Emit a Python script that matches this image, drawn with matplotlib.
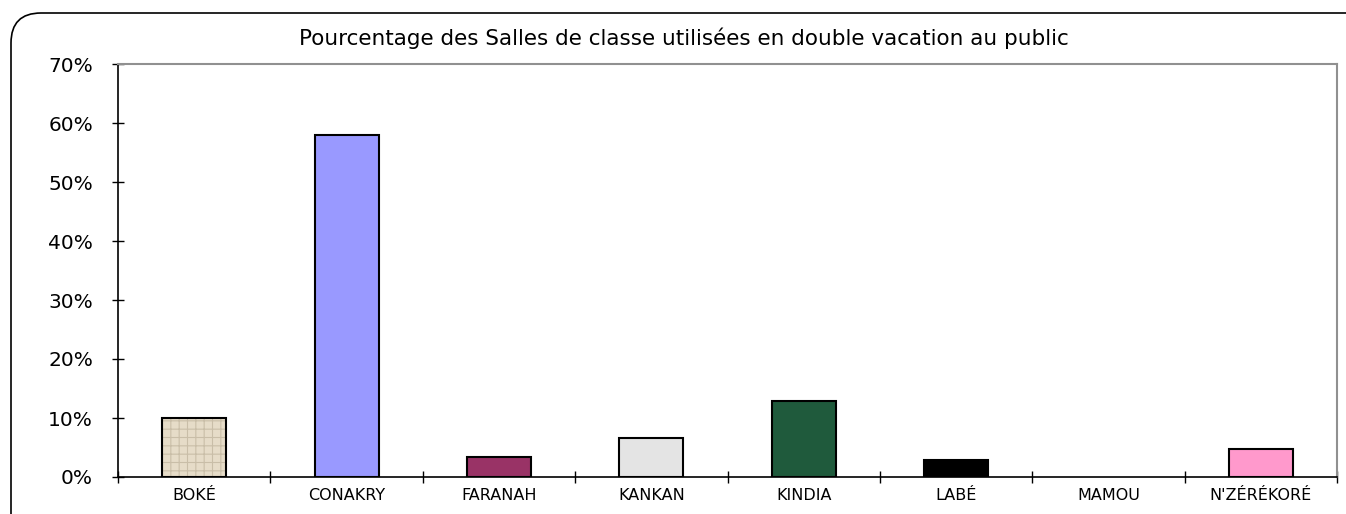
import numpy as np
import matplotlib.pyplot as plt
from matplotlib.patches import FancyBboxPatch
from matplotlib.ticker import PercentFormatter, FixedLocator

# données
regions = ['BOKÉ', 'CONAKRY', 'FARANAH', 'KANKAN', 'KINDIA', 'LABÉ', 'MAMOU', "N'ZÉRÉKORÉ"]
pourcent = [10.0, 58.0, 3.4, 6.6, 12.9, 2.8, 0.0, 4.8]
couleurs = ['#e6dcc8', '#9999ff', '#993366', '#e4e4e4', '#1f5a3c', '#000000', '#ffffff', '#ff99cc']
hachures = ['++', None, None, None, None, None, None, None]
titre = 'Pourcentage des Salles de classe utilisées en double vacation au public'

plt.rcParams['font.family'] = ['DejaVu Sans']
plt.rcParams['hatch.linewidth'] = 0.8

fig = plt.figure(figsize=(13.46, 5.14), dpi=100)
ax = fig.add_axes([118/1346, 1-477/514, (1337-118)/1346, (477-64)/514])

# cadre arrondi autour du graphique
cadre = FancyBboxPatch((11, -40), 1400, 514-13+40, boxstyle='round,pad=0,rounding_size=30',
                       transform=None, fill=False, edgecolor='black', linewidth=1.2)
fig.patches.append(cadre)

x = np.arange(len(regions))
for i in range(len(regions)):
    if pourcent[i] > 0:
        # remplissage (texture) puis contour noir
        ax.bar(x[i], pourcent[i], width=0.42, color=couleurs[i], edgecolor='#c9bea8',
               linewidth=0, hatch=hachures[i], zorder=3)
        ax.bar(x[i], pourcent[i], width=0.42, fill=False, edgecolor='black',
               linewidth=1.5, zorder=4)

ax.set_xlim(-0.5, len(regions) - 0.5)
ax.set_ylim(0, 70)
ax.yaxis.set_major_locator(FixedLocator(range(0, 71, 10)))
ax.yaxis.set_major_formatter(PercentFormatter(decimals=0))
ax.set_xticks(x)
ax.set_xticklabels(regions, fontsize=11.5)
ax.set_xticks(np.arange(-0.5, len(regions)), minor=True)
ax.tick_params(axis='x', which='major', length=0, pad=8)
ax.tick_params(axis='x', which='minor', direction='inout', length=8, width=1)
ax.tick_params(axis='y', direction='inout', length=8, width=1, labelsize=14.5, pad=14)

for s in ['left', 'bottom']:
    ax.spines[s].set_color('black')
    ax.spines[s].set_linewidth(1.2)
for s in ['top', 'right']:
    ax.spines[s].set_color('#909090')
    ax.spines[s].set_linewidth(1.5)

fig.text(0.508, 1-38/514, titre, ha='center', va='center', fontsize=15.5)

fig.savefig('out.png', dpi=100)
